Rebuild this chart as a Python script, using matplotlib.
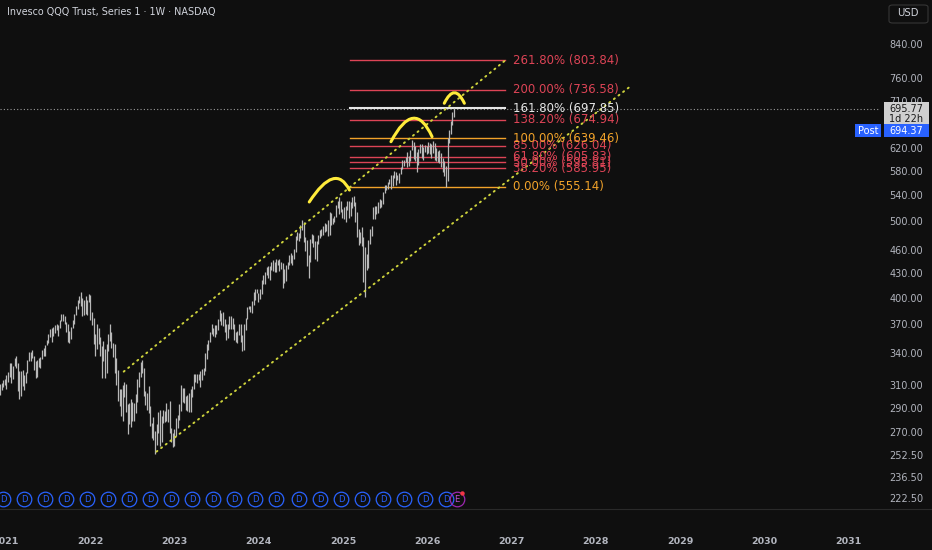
import numpy as np
import pandas as pd
import matplotlib
matplotlib.use("Agg")
import matplotlib.pyplot as plt
import matplotlib.dates as mdates
import matplotlib.transforms as mtransforms
from matplotlib.path import Path
from matplotlib.patches import PathPatch, Rectangle, FancyBboxPatch

# ---------------- data (weekly QQQ bars) ----------------
first_week = "2020-12-07"

highs_2020 = [312, 313, 315, 316]
lows_2020 = [302, 306, 309, 311]

highs_2021 = [320, 323, 331, 331, 329, 336, 338, 331, 324, 324, 325, 320, 323,
              334, 342, 342, 344, 338, 333, 334, 336, 337, 344, 346, 349, 355,
              361, 366, 367, 368, 370, 371, 370, 376, 382, 383, 380, 374, 372,
              364, 368, 376, 383, 392, 398, 403, 408, 401, 398, 403, 399, 406]
lows_2021 = [307, 314, 318, 313, 316, 329, 327, 305, 298, 301, 310, 306, 313,
             322, 333, 333, 336, 325, 317, 318, 328, 327, 335, 338, 338, 349,
             351, 358, 352, 359, 362, 365, 359, 367, 375, 375, 371, 363, 352,
             351, 356, 367, 371, 381, 388, 395, 392, 380, 381, 382, 381, 396]

highs_2022 = [404, 385, 378, 361, 371, 367, 358, 348, 354, 345, 350, 361, 372,
              363, 351, 350, 336, 325, 307, 307, 311, 314, 312, 294, 295, 298,
              296, 295, 303, 316, 323, 332, 334, 327, 305, 304, 310, 292, 278,
              283, 272, 277, 287, 289, 284, 289, 288, 295, 290, 297, 274, 270]
lows_2022 = [376, 370, 350, 338, 345, 350, 338, 317, 333, 317, 322, 343, 354,
             346, 337, 322, 311, 297, 292, 284, 280, 300, 287, 269, 277, 275,
             280, 280, 286, 296, 309, 318, 322, 301, 293, 289, 286, 276, 266,
             265, 254, 261, 270, 260, 263, 278, 279, 280, 279, 270, 263, 259]

highs_2023 = [273, 282, 285, 294, 311, 308, 308, 301, 302, 304, 307, 310, 321,
              321, 321, 321, 324, 326, 327, 341, 350, 355, 363, 371, 367, 370,
              370, 377, 387, 384, 385, 377, 372, 372, 380, 380, 378, 371, 363,
              364, 371, 371, 360, 371, 378, 391, 392, 392, 397, 408, 412, 412]
lows_2023 = [260, 268, 274, 281, 288, 296, 295, 289, 288, 287, 287, 300, 307,
             314, 313, 315, 309, 315, 320, 324, 335, 344, 352, 361, 359, 358,
             361, 365, 375, 370, 369, 363, 355, 357, 366, 366, 366, 355, 352,
             351, 360, 352, 343, 344, 365, 377, 388, 385, 384, 393, 399, 407]

highs_2024 = [407, 411, 422, 429, 433, 439, 440, 440, 446, 448, 446, 449, 448,
              449, 446, 444, 436, 441, 446, 454, 457, 455, 463, 480, 486, 485,
              496, 503, 501, 479, 475, 455, 476, 483, 482, 473, 474, 482, 489,
              491, 495, 499, 497, 504, 515, 514, 507, 510, 526, 533, 539, 532,
              520]
lows_2024 = [396, 400, 406, 418, 418, 429, 425, 423, 435, 434, 432, 433, 442,
             434, 436, 413, 419, 421, 436, 442, 444, 442, 449, 459, 475, 474,
             478, 489, 472, 460, 440, 425, 445, 471, 466, 449, 447, 470, 478,
             480, 482, 486, 487, 481, 482, 496, 497, 501, 508, 521, 512, 515,
             506]

highs_2025 = [523, 524, 533, 532, 531, 539, 540, 530, 515, 490, 486, 494, 479,
              466, 456, 475, 490, 495, 523, 525, 524, 530, 535, 534, 547, 557,
              558, 563, 568, 575, 575, 581, 580, 575, 577, 588, 600, 600, 606,
              614, 607, 618, 637, 632, 625, 615, 620, 628, 629, 624, 627, 626]
lows_2025 = [505, 500, 518, 507, 510, 521, 525, 500, 479, 468, 471, 467, 420,
             402, 435, 437, 470, 481, 505, 505, 513, 514, 522, 523, 528, 545,
             550, 552, 559, 551, 556, 570, 558, 566, 561, 576, 584, 589, 596,
             588, 589, 598, 618, 601, 598, 580, 591, 612, 604, 600, 614, 610]

highs_2026 = [632, 630, 628, 634, 630, 622, 616, 618, 612, 604, 598, 590, 640,
              655, 672, 690, 697.9]
lows_2026 = [612, 610, 603, 612, 600, 598, 596, 595, 588, 580, 572, 555.14, 565,
             630, 648, 665, 680]

last_price = 695.77
post_price = 694.37

# fibonacci retracement (log scale), anchored 555.14 -> 639.46
fib_levels = [0.0, 0.382, 0.5, 0.618, 0.85, 1.0, 1.382, 1.618, 2.0, 2.618]
fib_prices = [555.14, 585.95, 595.81, 605.83, 626.04, 639.46, 674.94, 697.85, 736.58, 803.84]
fib_kind = ["o", "r", "r", "r", "r", "o", "r", "w", "r", "r"]
fib_start, fib_end = "2025-02-01", "2026-12-03"

# trend lines (date, price)
upper_line = [("2022-05-27", 323.2), ("2026-12-03", 802.0)]
lower_line = [("2022-10-16", 255.8), ("2028-06-07", 747.3)]

# hand drawn humps: start, top, end
arcs = [
    [("2024-08-08", 530.8), ("2024-11-16", 567.8), ("2025-01-29", 549.7)],
    [("2025-07-28", 633.1), ("2025-10-31", 678.0), ("2026-01-22", 642.5)],
    [("2026-03-16", 708.4), ("2026-04-29", 730.6), ("2026-06-11", 708.4)],
]

dividends = ["2020-12-21", "2021-03-22", "2021-06-21", "2021-09-20", "2021-12-20",
             "2022-03-21", "2022-06-21", "2022-09-19", "2022-12-19", "2023-03-20",
             "2023-06-20", "2023-09-18", "2023-12-18", "2024-03-18", "2024-06-24",
             "2024-09-23", "2024-12-23", "2025-03-24", "2025-06-23", "2025-09-22",
             "2025-12-22", "2026-03-23"]
earnings_date = "2026-05-08"

price_ticks = [840, 760, 710, 660, 620, 580, 540, 500, 460, 430, 400, 370, 340,
               310, 290, 270, 252.5, 236.5, 222.5]
year_ticks = list(range(2021, 2032))

# ---------------- figure ----------------
W, H = 932, 550
BG = "#0f0f0f"
TXT = "#b2b5be"
RED, ORANGE, WHITE = "#dd4456", "#f2a32a", "#e6e6e6"
fib_col = {"r": RED, "o": ORANGE, "w": WHITE}

def fx(x):
    return x / W

def fy(y):
    return 1 - y / H

fig = plt.figure(figsize=(W / 100, H / 100), dpi=100, facecolor=BG)
ax = fig.add_axes([0, fy(509), fx(880), 509 / H])
ax.set_facecolor(BG)
ax.axis("off")
ax.set_yscale("log")
ax.set_ylim(216.3, 958.1)

px_per_year = 84.3
x2022 = mdates.date2num(pd.Timestamp("2022-01-01"))
ax.set_xlim(x2022 - 90 / px_per_year * 365.25, x2022 + 790 / px_per_year * 365.25)

highs = highs_2020 + highs_2021 + highs_2022 + highs_2023 + highs_2024 + highs_2025 + highs_2026
lows = lows_2020 + lows_2021 + lows_2022 + lows_2023 + lows_2024 + lows_2025 + lows_2026
weeks = pd.date_range(first_week, periods=len(highs), freq="7D")

ax.vlines(weeks, lows, highs, color="#b8b8b8", lw=0.9, zorder=3)

# last price dotted line
ax.axhline(last_price, color="#9a9a9a", lw=0.8, ls=(0, (1, 2)), zorder=2)

# channel lines
for line in (upper_line, lower_line):
    xs = [pd.Timestamp(d) for d, _ in line]
    ys = [p for _, p in line]
    ax.plot(xs, ys, color="#cfd43c", lw=1.4, ls=(0, (0.6, 2.4)),
            dash_capstyle="round", zorder=4)

# fib lines + labels
fs, fe = pd.Timestamp(fib_start), pd.Timestamp(fib_end)
for lvl, p, k in zip(fib_levels, fib_prices, fib_kind):
    c = fib_col[k]
    ax.plot([fs, fe], [p, p], color=c, lw=1.5 if k == "w" else 1.0, zorder=2)
    ax.annotate(f"{lvl * 100:.2f}% ({p:.2f})", xy=(fe, p), xytext=(6, 0),
                textcoords="offset points", color=c, fontsize=8.5,
                va="center", ha="left", zorder=5)

# dividend markers along the pane bottom
xax = ax.get_xaxis_transform()
for d in dividends:
    t = pd.Timestamp(d)
    ax.plot([t], [0.0196], transform=xax, marker="o", ms=10.5, mfc="none",
            mec="#2962ff", mew=0.9, clip_on=False, zorder=5)
    ax.text(t, 0.0196, "D", transform=xax, color="#2962ff", fontsize=6,
            ha="center", va="center", zorder=5)
te = pd.Timestamp(earnings_date)
ax.plot([te], [0.0196], transform=xax, marker="o", ms=10.5, mfc="none",
        mec="#9c27b0", mew=0.9, zorder=5)
ax.text(te, 0.0196, "E", transform=xax, color="#c04dd0", fontsize=6,
        ha="center", va="center", zorder=5)
ax.plot([te + pd.Timedelta(days=22)], [0.032], transform=xax, marker="o", ms=3.2,
        mfc="#f23645", mec="none", zorder=6)

# hand drawn humps (quadratic curves through start/top/end, in screen space)
for arc in arcs:
    pts = ax.transData.transform([(mdates.date2num(pd.Timestamp(d)), p) for d, p in arc])
    s, top, e = pts
    ctrl = 2 * top - (s + e) / 2
    path = Path([s, ctrl, e], [Path.MOVETO, Path.CURVE3, Path.CURVE3])
    fig.add_artist(PathPatch(path, fill=False, ec="#ffeb3b", lw=2.2,
                             transform=mtransforms.IdentityTransform(),
                             capstyle="round", zorder=6))

# ---------------- axes chrome ----------------
ytr = mtransforms.blended_transform_factory(fig.transFigure, ax.transData)
for p in price_ticks:
    fig.text(fx(923), p, f"{p:.2f}", transform=ytr, color=TXT, fontsize=7,
             ha="right", va="center")

for yr in year_ticks:
    ax.text(pd.Timestamp(f"{yr}-01-01"), -0.0629, str(yr), transform=xax,
            color=TXT, fontsize=6.8, fontweight="bold", ha="center",
            va="center", clip_on=False)

fig.add_artist(plt.Line2D([0, 1], [fy(509), fy(509)], color="#2a2a2a", lw=0.8))

fig.text(fx(7), fy(12), "Invesco QQQ Trust, Series 1 · 1W · NASDAQ",
         color="#d1d4dc", fontsize=6.9, ha="left", va="center")

fig.add_artist(FancyBboxPatch((fx(889), fy(23)), fx(39), 18 / H,
                              boxstyle="round,pad=0,rounding_size=0.004",
                              fc=BG, ec="#363636", lw=0.8))
fig.text(fx(908), fy(13.5), "USD", color="#d1d4dc", fontsize=7.3,
         ha="center", va="center")

# last price / post-market boxes on the price scale
y0 = H - ax.transData.transform((0, last_price))[1]
fig.add_artist(Rectangle((fx(884), fy(y0 + 15)), fx(45), 22 / H,
                         fc="#d0d0d0", ec="none", zorder=8))
fig.text(fx(923), fy(y0 - 0.5), f"{last_price:.2f}", color="#1a1a1a",
         fontsize=7, ha="right", va="center", zorder=9)
fig.text(fx(923), fy(y0 + 9.5), "1d 22h", color="#1a1a1a", fontsize=7,
         ha="right", va="center", zorder=9)
fig.add_artist(Rectangle((fx(884), fy(y0 + 28)), fx(45), 13 / H,
                         fc="#2962ff", ec="none", zorder=8))
fig.text(fx(923), fy(y0 + 21.5), f"{post_price:.2f}", color="white",
         fontsize=7, ha="right", va="center", zorder=9)
fig.add_artist(Rectangle((fx(855), fy(y0 + 28)), fx(26), 13 / H,
                         fc="#2962ff", ec="none", zorder=8))
fig.text(fx(868), fy(y0 + 21.5), "Post", color="white", fontsize=7,
         ha="center", va="center", zorder=9)

fig.savefig("out.png", dpi=100, facecolor=BG)
